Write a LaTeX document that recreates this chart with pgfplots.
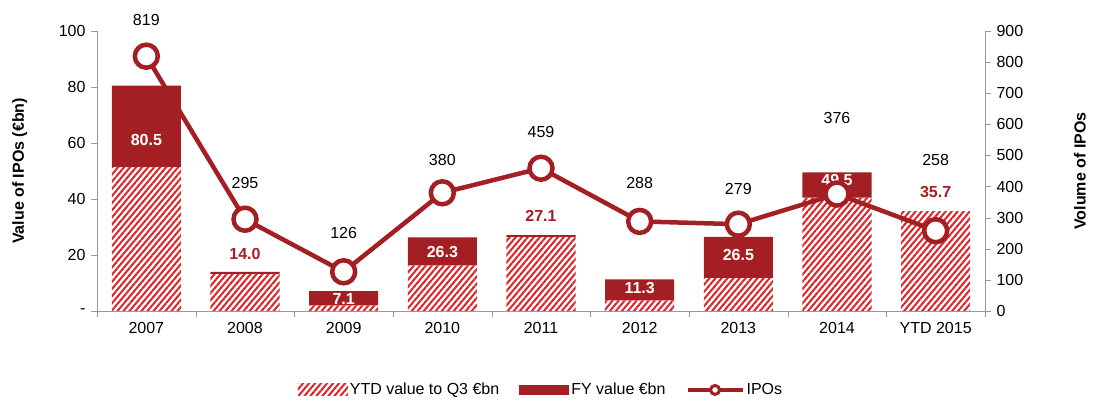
\documentclass[border=0pt]{standalone}
\usepackage{fontspec}
\setmainfont{Liberation Sans}
\usepackage{pgfplots}
\usepackage{pgfplotstable}
\pgfplotsset{compat=1.18}
\usetikzlibrary{patterns.meta}

\definecolor{fyred}{HTML}{A31F24}
\definecolor{hatchred}{HTML}{E02228}

% value of IPOs (EUR bn): hatched YTD part + solid rest of full year
\pgfplotstableread{
x ytd fy
0 51.4 29.1
1 13.3 0.7
2 2.0 5.1
3 16.3 10.0
4 26.5 0.6
5 3.8 7.5
6 11.8 14.7
7 40.5 9.0
8 35.7 0
}\valuedata

% volume of IPOs
\pgfplotstableread{
x ipos
0 819
1 295
2 126
3 380
4 459
5 288
6 279
7 376
8 258
}\ipodata

\tikzset{hatchfill/.style={pattern={Lines[angle=50,distance=4.6pt,line width=2pt]}, pattern color=hatchred}}

\begin{document}
\fontsize{16}{19}\selectfont
\begin{tikzpicture}[font=\fontsize{16}{19}\selectfont]
\begin{axis}[
  scale only axis, width=888pt, height=280pt,
  xmin=-0.5, xmax=8.5, ymin=0, ymax=100,
  ybar stacked, bar width=0.7,
  axis y line*=left, axis x line*=bottom,
  axis line style={-, gray!80}, tick style={gray!80},
  tick align=outside, major tick length=6pt, minor tick length=6pt,
  xtick={0,...,8},
  xticklabels={2007,2008,2009,2010,2011,2012,2013,2014,YTD 2015},
  major x tick style={draw=none},
  minor xtick={-0.5,0.5,...,8.5},
  ytick={0,20,...,100}, yticklabels={-,20,40,60,80,100},
  /pgf/number format/assume math mode=true,
  ylabel={\bfseries Value of IPOs (€bn)},
  ylabel style={at={(axis description cs:-0.087,0.5)}, anchor=center},
]
\addplot[draw=none, hatchfill] table[x=x, y=ytd] \valuedata;
\addplot[draw=none, fill=fyred] table[x=x, y=fy] \valuedata;
\coordinate (o) at (rel axis cs:0,0);
\end{axis}

\begin{axis}[
  scale only axis, width=888pt, height=280pt,
  xmin=-0.5, xmax=8.5, ymin=0, ymax=900,
  axis y line*=right, axis x line=none,
  axis line style={-, gray!80}, tick style={gray!80},
  tick align=outside, major tick length=6pt,
  ytick={0,100,...,900},
  /pgf/number format/assume math mode=true,
  ylabel={\bfseries Volume of IPOs},
  ylabel style={at={(axis description cs:1.107,0.5)}, anchor=center},
  clip=false,
  legend style={at={(0.5,-0.282)}, anchor=center, draw=none, fill=none,
    legend columns=-1, /tikz/every even column/.append style={column sep=18pt}},
]
\addlegendimage{legend image code/.code={\fill[hatchfill, draw=none] (0pt,-6pt) rectangle (50pt,6pt);}}
\addlegendentry{YTD value to Q3 €bn}
\addlegendimage{legend image code/.code={\fill[fyred, draw=none] (0pt,-5pt) rectangle (50pt,5pt);}}
\addlegendentry{FY value €bn}
% bar value labels (in right-axis units: value x 9)
\node[font=\bfseries, white] at (axis cs:0,550) {80.5};
\node[font=\bfseries, fyred] at (axis cs:1,184) {14.0};
\node[font=\bfseries, white] at (axis cs:2,38) {7.1};
\node[font=\bfseries, white] at (axis cs:3,190) {26.3};
\node[font=\bfseries, fyred] at (axis cs:4,305) {27.1};
\node[font=\bfseries, white] at (axis cs:5,74) {11.3};
\node[font=\bfseries, white] at (axis cs:6,180) {26.5};
\node[font=\bfseries, white] at (axis cs:7,421) {49.5};
\node[font=\bfseries, fyred] at (axis cs:8,383) {35.7};
% IPO count labels
\node at (axis cs:0,935) {819};
\node at (axis cs:1,411) {295};
\node at (axis cs:2,251) {126};
\node at (axis cs:3,485) {380};
\node at (axis cs:4,575) {459};
\node at (axis cs:5,411) {288};
\node at (axis cs:6,392) {279};
\node at (axis cs:7,620) {376};
\node at (axis cs:8,485) {258};
\addplot[fyred, line width=4.5pt, mark=*,
  mark options={fill=white, draw=fyred, line width=4.5pt, scale=1},
  mark size=11.5pt,
  legend image code/.code={
    \draw[fyred, line width=4pt] (0pt,0pt) -- (55pt,0pt);
    \draw[fyred, line width=3pt, fill=white] (27.5pt,0pt) circle (4.5pt);}]
  table[x=x, y=ipos] \ipodata;
\addlegendentry{IPOs}
\end{axis}
\path (o) ++(-97pt,-89pt) rectangle ++(1103pt,400pt);
\end{tikzpicture}
\end{document}
